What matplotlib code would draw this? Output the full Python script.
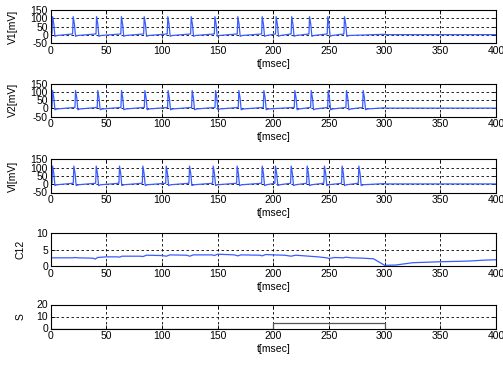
import numpy as np
import matplotlib.pyplot as plt

plt.rcParams['font.family'] = ['Liberation Sans', 'DejaVu Sans']
plt.rcParams['axes.unicode_minus'] = False

# spike times [msec]
v1_spikes = [1.2, 19.7, 40.7, 63, 83.5, 104.7, 125.7, 147, 167.6, 189.5, 202, 216, 232, 248.4, 263.4]
v2_spikes = [1.2, 21.8, 41.8, 63.1, 84.1, 105, 126.6, 147.6, 168.5, 191, 218.8, 233.5, 248.8, 265.2, 280.2]
vi_spikes = [1.2, 20.3, 40.4, 61.3, 82.3, 103.3, 124.2, 145.5, 167, 189.5, 201.4, 215.5, 229.9, 245.4, 261.3, 276.3]

# spike shape (offset from spike time, mV) and resting levels
spike_dt = [0.0, 0.5, 1.6, 2.6, 4.5]
spike_v = [8, 110, 65, -8, -3]
v_rest = 2
v_end = 300

# C12 trace
c12_t = [0, 20, 22, 24, 38, 40, 42, 50, 60, 62, 64, 80, 83, 86, 100, 104, 107, 122, 125, 128,
         145, 147, 150, 165, 168, 171, 188, 190, 193, 200, 210, 216, 220, 232, 240, 248, 250, 255,
         263, 265, 270, 280, 290, 300, 310, 325, 350, 375, 390, 400]
c12_v = [2.5, 2.5, 2.6, 2.5, 2.4, 2.1, 2.6, 2.8, 2.8, 2.7, 3.0, 3.0, 2.9, 3.3, 3.2, 3.0, 3.4, 3.3, 3.0, 3.4,
         3.4, 3.2, 3.6, 3.4, 3.1, 3.4, 3.3, 3.1, 3.5, 3.4, 3.3, 3.0, 3.3, 3.0, 2.8, 2.5, 2.3, 2.6,
         2.5, 2.7, 2.5, 2.4, 2.2, 0.2, 0.3, 1.0, 1.3, 1.5, 1.8, 1.9]

# S input
s_t = [0, 200, 200, 300, 300, 400]
s_v = [0, 0, 5, 5, 0, 0]


def trace(spikes):
    t, v = [0.0], [6.0]
    for ts in spikes:
        t.append(ts - 0.05)
        v.append(6)
        for dt, vv in zip(spike_dt, spike_v):
            t.append(ts + dt)
            v.append(vv)
    t += [v_end, v_end + 0.5, 400]
    v += [4, v_rest, v_rest]
    return t, v


fig = plt.figure(figsize=(5.03, 3.73), dpi=100)
W, H = 503, 373
left, right = 50.7, 496
panels = [(10, 43.3), (84, 116.6), (159.5, 192.5), (233.3, 266), (304.5, 328.5)]
blue = '#3a5cff'

axes = []
for top, bot in panels:
    ax = fig.add_axes([left / W, 1 - bot / H, (right - left) / W, (bot - top) / H])
    axes.append(ax)

for ax, spikes, lab in zip(axes[:3], [v1_spikes, v2_spikes, vi_spikes], ['V1[mV]', 'V2[mV]', 'VI[mV]']):
    t, v = trace(spikes)
    ax.plot(t, v, color=blue, lw=0.9)
    ax.set_ylim(-50, 150)
    ax.set_yticks([-50, 0, 50, 100, 150])
    ax.set_ylabel(lab)
    ax.yaxis.set_label_coords(-0.074, 0.5)

axes[3].plot(c12_t, c12_v, color=blue, lw=0.9)
axes[3].set_ylim(0, 10)
axes[3].set_yticks([0, 5, 10])
axes[3].set_ylabel('C12')
axes[3].yaxis.set_label_coords(-0.057, 0.5)

axes[4].plot(s_t, s_v, color='#555555', lw=0.9)
axes[4].set_ylim(0, 20)
axes[4].set_yticks([0, 10, 20])
axes[4].set_ylabel('S')
axes[4].yaxis.set_label_coords(-0.057, 0.5)

for ax in axes:
    ax.set_xlim(0, 400)
    ax.set_xticks(np.arange(0, 401, 50))
    ax.set_xlabel('t[msec]', fontsize=7.5, labelpad=2)
    ax.yaxis.label.set_size(7.5)
    ax.tick_params(direction='in', length=3, width=0.6, labelsize=7.5, pad=2,
                   top=True, right=True)
    ax.grid(True, color='k', linestyle=(0, (3, 3)), linewidth=0.6)
    for s in ax.spines.values():
        s.set_linewidth(0.8)

fig.savefig('out.png', dpi=100)
